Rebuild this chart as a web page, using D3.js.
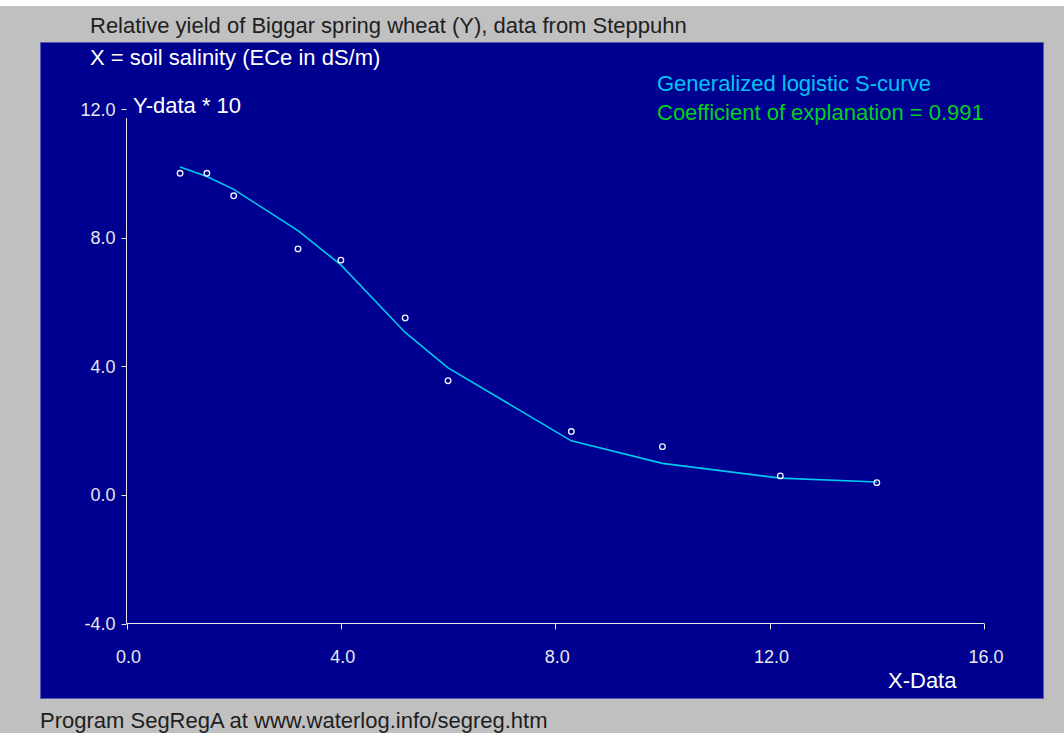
<!DOCTYPE html>
<html>
<head>
<meta charset="utf-8">
<script src="https://cdn.jsdelivr.net/npm/d3@7"></script>
<style>
  html, body { margin: 0; padding: 0; background: #c0c0c0; }
  text { font-family: "Liberation Sans", Arial, sans-serif; }
</style>
</head>
<body>
<script>
// Chart size
const WIDTH = 1064;
const HEIGHT = 733;

// Observed data (X = ECe dS/m, Y = relative yield * 10)
const xData = [1.0, 1.5, 2.0, 3.2, 4.0, 5.2, 6.0, 8.3, 10.0, 12.2, 14.0];
const yData = [10.0, 10.0, 9.3, 7.65, 7.3, 5.5, 3.55, 1.97, 1.5, 0.59, 0.38];

// Fitted generalized logistic S-curve, evaluated at the same X
const yFit = [10.2, 9.9, 9.5, 8.22, 7.15, 5.05, 3.95, 1.68, 0.98, 0.52, 0.4];

// Axis ticks
const xTicks = [0, 4, 8, 12, 16];
const yTicks = [-4, 0, 4, 8, 12];

// Texts
const title = 'Relative yield of Biggar spring wheat (Y), data from Steppuhn';
const xDesc = 'X = soil salinity (ECe in dS/m)';
const curveName = 'Generalized logistic S-curve';
const coefText = 'Coefficient of explanation = 0.991';
const footer = 'Program SegRegA at www.waterlog.info/segreg.htm';

const BIG = 22;
const SMALL = 18;

function initCanvas() {
    const svg = d3.select('body')
        .append('svg')
        .attr('width', WIDTH)
        .attr('height', HEIGHT)
        .style('display', 'block');
    // white strip at the very top, grey window, navy panel
    svg.append('rect').attr('width', WIDTH).attr('height', HEIGHT).attr('fill', '#c0c0c0');
    svg.append('rect').attr('width', WIDTH).attr('height', 6).attr('fill', '#ffffff');
    svg.append('rect')
        .attr('x', 40.5).attr('y', 42.5)
        .attr('width', 1003).attr('height', 656)
        .attr('fill', '#000090')
        .attr('stroke', '#5a5ab4');
    return svg;
}

function drawChart(svg) {
    const x = d3.scaleLinear().domain([0, 16]).range([126.5, 984]);
    const y = d3.scaleLinear().domain([-4, 12]).range([623.5, 109]);
    const axisColor = '#e8e8e8';
    const fmt = d3.format('.1f');

    // Y axis (line starts a bit below the 12.0 tick, like the original)
    svg.append('line')
        .attr('x1', x(0)).attr('x2', x(0))
        .attr('y1', y(12) + 9).attr('y2', y(-4))
        .attr('stroke', axisColor);
    svg.selectAll('.ytick').data(yTicks).join('line')
        .attr('x1', x(0) - 5).attr('x2', x(0))
        .attr('y1', d => Math.round(y(d)) + 0.5).attr('y2', d => Math.round(y(d)) + 0.5)
        .attr('stroke', axisColor);
    svg.selectAll('.ylab').data(yTicks).join('text')
        .attr('x', x(0) - 11)
        .attr('y', d => y(d) + 6.5)
        .attr('text-anchor', 'end')
        .attr('font-size', SMALL)
        .attr('fill', axisColor)
        .text(d => d3.format('.1f')(d).replace('\u2212', '-'));

    // X axis
    svg.append('line')
        .attr('x1', x(0)).attr('x2', x(16))
        .attr('y1', y(-4)).attr('y2', y(-4))
        .attr('stroke', axisColor);
    svg.selectAll('.xtick').data(xTicks).join('line')
        .attr('x1', d => Math.round(x(d)) + 0.5).attr('x2', d => Math.round(x(d)) + 0.5)
        .attr('y1', y(-4)).attr('y2', y(-4) + 6)
        .attr('stroke', axisColor);
    svg.selectAll('.xlab').data(xTicks).join('text')
        .attr('x', d => x(d) + 2)
        .attr('y', 663)
        .attr('text-anchor', 'middle')
        .attr('font-size', SMALL)
        .attr('fill', axisColor)
        .text(d => fmt(d));

    // Fitted curve
    const line = d3.line().x(d => x(d[0])).y(d => y(d[1]));
    svg.append('path')
        .datum(xData.map((d, i) => [d, yFit[i]]))
        .attr('d', line)
        .attr('fill', 'none')
        .attr('stroke', '#00c8ee')
        .attr('stroke-width', 1.6);

    // Observed points
    svg.selectAll('.pt').data(xData).join('circle')
        .attr('cx', d => x(d))
        .attr('cy', (d, i) => y(yData[i]))
        .attr('r', 2.8)
        .attr('fill', 'none')
        .attr('stroke', '#f0f0ff')
        .attr('stroke-width', 1.3);

    // Texts
    svg.append('text').attr('x', 90).attr('y', 33)
        .attr('font-size', BIG).attr('fill', '#202020').text(title);
    svg.append('text').attr('x', 90).attr('y', 65)
        .attr('font-size', BIG).attr('fill', '#ffffff').text(xDesc);
    svg.append('text').attr('x', 133).attr('y', 113)
        .attr('font-size', BIG).attr('fill', '#ffffff').text('Y-data * 10');
    svg.append('text').attr('x', 888).attr('y', 688)
        .attr('font-size', BIG).attr('fill', '#ffffff').text('X-Data');
    svg.append('text').attr('x', 657).attr('y', 91)
        .attr('font-size', BIG).attr('fill', '#00c4f4').text(curveName);
    svg.append('text').attr('x', 657).attr('y', 120)
        .attr('font-size', BIG).attr('fill', '#00d020').text(coefText);
    svg.append('text').attr('x', 40).attr('y', 728)
        .attr('font-size', BIG).attr('fill', '#202020').text(footer);
}

function main() {
    const svg = initCanvas();
    drawChart(svg);
}

main();
</script>
</body>
</html>
